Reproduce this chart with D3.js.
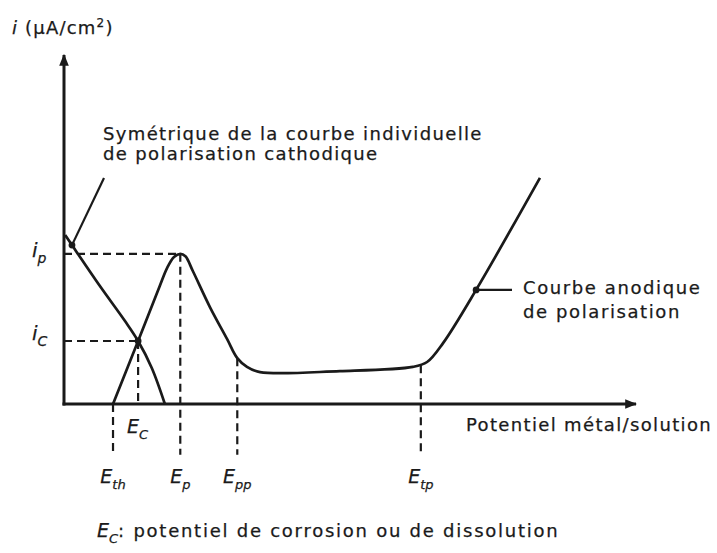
<!DOCTYPE html>
<html>
<head>
<meta charset="utf-8">
<script src="https://cdn.jsdelivr.net/npm/d3@7"></script>
<style>
  body { margin: 0; background: #fff; }
  text { font-family: "DejaVu Sans", sans-serif; fill: #1a1a1a; stroke: #1a1a1a; stroke-width: 0.25px; }
</style>
</head>
<body>
<svg width="717" height="553"></svg>
<script>
// potentiel (unités arbitraires) / densité de courant (unités arbitraires)
let anodic = [
  [8.6, 0], [13.0, 18.0], [16.8, 33.7], [18.1, 38.9], [19.3, 42.0], [20.4, 42.9],
  [21.3, 42.2], [22.6, 38.0], [25.6, 27.7], [28.6, 18.6], [30.4, 13.1], [32.1, 10.6],
  [34.4, 9.1], [48.4, 9.4], [61.2, 10.6], [63.7, 12.0], [66.5, 17.4], [72.3, 32.6],
  [83.5, 64.6]
];
let cathodic = [
  [0.2, 48.3], [1.4, 45.4], [6.3, 33.7], [10.7, 23.7], [13.0, 18.0], [15.4, 10.3], [17.7, 0]
];
let potentials = [
  { name: 'E', sub: 'th', x: 8.6, from: 0 },
  { name: 'E', sub: 'p', x: 20.4, from: 42.9 },
  { name: 'E', sub: 'pp', x: 30.4, from: 13.1 },
  { name: 'E', sub: 'tp', x: 62.6, from: 11.1 }
];
let ecorr = { x: 13.0, i: 18.0 };
let ipeak = { x: 20.4, i: 42.9 };
let markers = [[1.4, 45.4], [13.0, 18.0], [72.3, 32.6]];

let svg = d3.select('svg');
let x = d3.scaleLinear().domain([0, 100]).range([64, 634]);
let y = d3.scaleLinear().domain([0, 100]).range([404, 54]);
let ink = '#1a1a1a';

// axes with arrows
svg.append('defs').append('marker')
    .attr('id', 'arrow')
    .attr('viewBox', '0 0 10 10')
    .attr('refX', 9).attr('refY', 5)
    .attr('markerWidth', 4).attr('markerHeight', 4)
    .attr('orient', 'auto')
  .append('path')
    .attr('d', 'M0,1 L10,5 L0,9 Z')
    .attr('fill', ink);

svg.append('line')
    .attr('x1', x(0) - 1.5).attr('y1', y(0))
    .attr('x2', x(100) + 2).attr('y2', y(0))
    .attr('stroke', ink).attr('stroke-width', 3)
    .attr('marker-end', 'url(#arrow)');
svg.append('line')
    .attr('x1', x(0)).attr('y1', y(0) + 1.5)
    .attr('x2', x(0)).attr('y2', y(100) + 1)
    .attr('stroke', ink).attr('stroke-width', 3)
    .attr('marker-end', 'url(#arrow)');

// dashed guides
let dash = g => g.attr('stroke', ink).attr('stroke-width', 2.2).attr('stroke-dasharray', '8,5').attr('fill', 'none');
let bottom = -14.5;

svg.append('line').call(dash)
    .attr('x1', x(0)).attr('y1', y(ipeak.i)).attr('x2', x(ipeak.x)).attr('y2', y(ipeak.i));
svg.append('line').call(dash)
    .attr('x1', x(0)).attr('y1', y(ecorr.i)).attr('x2', x(ecorr.x)).attr('y2', y(ecorr.i));
svg.append('line').call(dash)
    .attr('x1', x(ecorr.x)).attr('y1', y(ecorr.i)).attr('x2', x(ecorr.x)).attr('y2', y(0));

svg.selectAll('.vguide')
  .data(potentials)
  .enter().append('line')
    .attr('class', 'vguide')
    .call(dash)
    .attr('x1', d => x(d.x)).attr('y1', d => y(d.from))
    .attr('x2', d => x(d.x)).attr('y2', y(bottom));

// curves
let line = d3.line()
    .x(d => x(d[0]))
    .y(d => y(d[1]))
    .curve(d3.curveCatmullRom.alpha(0.5));

svg.append('path')
    .attr('d', line(anodic))
    .attr('fill', 'none').attr('stroke', ink).attr('stroke-width', 2.7);
svg.append('path')
    .attr('d', line(cathodic))
    .attr('fill', 'none').attr('stroke', ink).attr('stroke-width', 2.7);

svg.selectAll('.dot')
  .data(markers)
  .enter().append('circle')
    .attr('class', 'dot')
    .attr('cx', d => x(d[0])).attr('cy', d => y(d[1]))
    .attr('r', 3.4)
    .attr('fill', ink);

// leaders
svg.append('line')
    .attr('x1', x(markers[0][0])).attr('y1', y(markers[0][1]))
    .attr('x2', 104).attr('y2', 178)
    .attr('stroke', ink).attr('stroke-width', 2.2);
svg.append('line')
    .attr('x1', x(markers[2][0])).attr('y1', y(markers[2][1]))
    .attr('x2', 512).attr('y2', y(markers[2][1]))
    .attr('stroke', ink).attr('stroke-width', 2.2);

// labels
let body = t => t.style('font-size', '18px').style('letter-spacing', '1.35px');

function sym(sel, main, sub, size) {
  sel.append('tspan').style('font-style', 'italic').style('font-size', size + 'px').text(main);
  sel.append('tspan').style('font-style', 'italic').style('font-size', Math.round(size * 0.68) + 'px')
      .attr('dy', size * 0.3).text(sub);
}

let title = svg.append('text').attr('x', 12).attr('y', 34).style('font-size', '18px').style('letter-spacing', '1.2px');
title.append('tspan').style('font-style', 'italic').text('i');
title.append('tspan').text(' (µA/cm');
title.append('tspan').attr('dy', -7).style('font-size', '12px').text('2');
title.append('tspan').attr('dy', 7).text(')');

svg.append('text').attr('x', 103).attr('y', 140).call(body).text('Symétrique de la courbe individuelle');
svg.append('text').attr('x', 103).attr('y', 160).call(body).text('de polarisation cathodique');
svg.append('text').attr('x', 523).attr('y', 294).call(body).style('letter-spacing', '1.6px').text('Courbe anodique');
svg.append('text').attr('x', 523).attr('y', 318).call(body).style('letter-spacing', '1.6px').text('de polarisation');
svg.append('text').attr('x', 466).attr('y', 431).call(body).text('Potentiel métal/solution');

svg.append('text').attr('x', 32).attr('y', y(ipeak.i) + 3).call(t => sym(t, 'i', 'p', 20));
svg.append('text').attr('x', 32).attr('y', y(ecorr.i) - 1).call(t => sym(t, 'i', 'C', 20));

svg.append('text').attr('x', x(ecorr.x) - 11).attr('y', 433).call(t => sym(t, 'E', 'C', 19));

svg.selectAll('.elabel')
  .data(potentials)
  .enter().append('text')
    .attr('class', 'elabel')
    .attr('x', d => x(d.x))
    .attr('y', 483)
    .attr('text-anchor', 'middle')
    .each(function(d) { sym(d3.select(this), d.name, d.sub, 19); });

let foot = svg.append('text').attr('x', 97).attr('y', 537).call(body);
foot.append('tspan').style('font-style', 'italic').style('font-size', '19px').style('letter-spacing', '0px').text('E');
foot.append('tspan').style('font-style', 'italic').style('font-size', '13px').style('letter-spacing', '0px').attr('dy', 6).text('C');
foot.append('tspan').attr('dy', -6).style('letter-spacing', '1.75px').text(': potentiel de corrosion ou de dissolution');
</script>
</body>
</html>
